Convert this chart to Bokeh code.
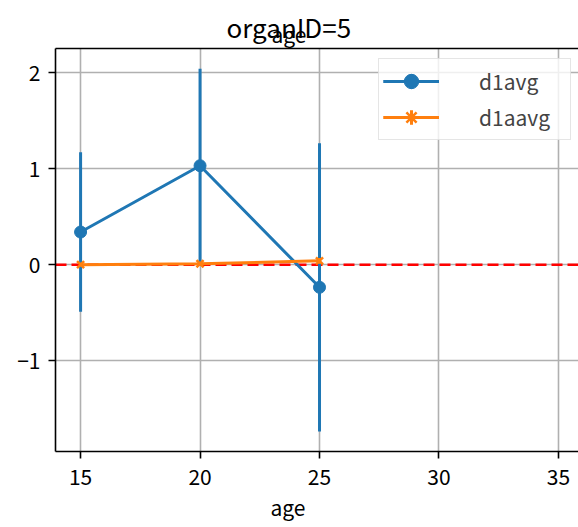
from bokeh.plotting import figure
from bokeh.models import (Range1d, LinearAxis, FixedTicker, Span, Legend,
                          LegendItem, ColumnDataSource, Title)
from bokeh.embed import file_html
from bokeh.resources import INLINE

# ---- data ----
ages = [15, 20, 25]
d1avg = [0.34, 1.03, -0.235]
d1avg_err = [0.83, 1.01, 1.50]
d1aavg = [0.0, 0.01, 0.04]
d1aavg_err = [0.02, 0.02, 0.03]
x_ticks = [15, 20, 25, 30, 35]
y_ticks = [-1, 0, 1, 2]
title_text = "organID=5"
x_label = "age"
ref_level = 0.0

FONT = "Noto Sans CJK JP"
BLUE = "#1f77b4"
ORANGE = "#ff7f0e"

p = figure(width=578, height=527, output_backend="svg", toolbar_location=None,
           title=None,
           x_range=Range1d(13.95, 35.84), y_range=Range1d(-1.944, 2.25),
           min_border_left=55, min_border_right=0, min_border_top=48,
           min_border_bottom=75)
p.outline_line_color = None
p.background_fill_color = "white"

# axes
for ax in (p.xaxis[0], p.yaxis[0]):
    ax.axis_line_width = 1.6
    ax.axis_line_color = "black"
    ax.major_tick_line_width = 1.6
    ax.major_tick_line_color = "black"
    ax.major_tick_out = 7
    ax.major_tick_in = 0
    ax.minor_tick_out = 0
    ax.minor_tick_in = 0
    ax.major_label_text_font = FONT
    ax.major_label_text_font_size = "21px"
    ax.major_label_text_color = "black"
p.xaxis.ticker = FixedTicker(ticks=x_ticks)
p.yaxis.ticker = FixedTicker(ticks=y_ticks)
p.xaxis.major_label_standoff = 10
p.yaxis.major_label_standoff = 8
p.yaxis.major_label_overrides = {t: (("\u2212" + str(abs(t))) if t < 0 else str(t)) for t in y_ticks}

for g in (p.xgrid[0], p.ygrid[0]):
    g.grid_line_color = "#b0b0b0"
    g.grid_line_width = 1.6
p.xgrid.ticker = FixedTicker(ticks=x_ticks)
p.ygrid.ticker = FixedTicker(ticks=y_ticks)

top = LinearAxis(ticker=FixedTicker(ticks=[], minor_ticks=[]),
                 major_label_text_font_size="0px", axis_line_width=1.6,
                 axis_line_color="black", major_tick_out=0, major_tick_in=0,
                 minor_tick_out=0, minor_tick_in=0, major_label_standoff=0)
p.add_layout(top, "above")

# the upper subplot's x label, which overlaps the title in the reference:
# a title band of no height whose text reaches up into the title band
try:
    top_age = Title(text=x_label, align="left", offset=216, standoff=-59,
                    vertical_align="top", text_font=FONT, text_font_size="21px",
                    text_font_style="normal", text_color="black")
except Exception:
    top_age = None
if top_age is not None:
    p.add_layout(top_age, "above")

# title above, x label below (left-aligned with offsets so they sit where the reference has them)
p.add_layout(Title(text=title_text, align="left", offset=171, standoff=8,
                   vertical_align="bottom", text_font=FONT, text_font_size="26px",
                   text_font_style="normal", text_color="black"), "above")
p.add_layout(Title(text=x_label, align="left", offset=215, standoff=8,
                   vertical_align="top", text_font=FONT, text_font_size="21px",
                   text_font_style="normal", text_color="black"), "below")

# reference line
p.add_layout(Span(location=ref_level, dimension="width", line_color="red",
                  line_width=2.5, line_dash="11 5", level="underlay"))

# series 1
src1 = ColumnDataSource(dict(x=ages, y=d1avg,
                             lo=[v - e for v, e in zip(d1avg, d1avg_err)],
                             hi=[v + e for v, e in zip(d1avg, d1avg_err)]))
r1_line = p.line("x", "y", source=src1, line_color=BLUE, line_width=3)
r1_err = p.segment(x0="x", y0="lo", x1="x", y1="hi", source=src1,
                   line_color=BLUE, line_width=3)
r1_proxy = p.scatter("x", "y", source=src1, marker="cross", size=0,
                     line_color=BLUE, line_width=3)
r1_pt = p.scatter("x", "y", source=src1, marker="circle", size=12,
                  fill_color=BLUE, line_color=BLUE)

# series 2
src2 = ColumnDataSource(dict(x=ages, y=d1aavg,
                             lo=[v - e for v, e in zip(d1aavg, d1aavg_err)],
                             hi=[v + e for v, e in zip(d1aavg, d1aavg_err)]))
r2_line = p.line("x", "y", source=src2, line_color=ORANGE, line_width=3)
r2_err = p.segment(x0="x", y0="lo", x1="x", y1="hi", source=src2,
                   line_color=ORANGE, line_width=3)
r2_proxy = p.scatter("x", "y", source=src2, marker="cross", size=0,
                     line_color=ORANGE, line_width=3)
r2_pt = p.scatter("x", "y", source=src2, marker="x", size=10,
                  line_color=ORANGE, line_width=2.5)

legend = Legend(items=[
    LegendItem(label="d1avg", renderers=[r1_line, r1_err, r1_proxy, r1_pt]),
    LegendItem(label="d1aavg", renderers=[r2_line, r2_err, r2_proxy, r2_pt]),
], location=(323, 311))
legend.glyph_width = 56
legend.glyph_height = 36
legend.label_standoff = 40
legend.label_width = 87
legend.label_height = 21
legend.padding = 4
legend.spacing = 0
legend.label_text_font = FONT
legend.label_text_font_size = "21px"
legend.border_line_color = "#cccccc"
legend.border_line_width = 1.5
legend.background_fill_alpha = 0.8
p.add_layout(legend)

open("out.html", "w").write(file_html(p, INLINE))
